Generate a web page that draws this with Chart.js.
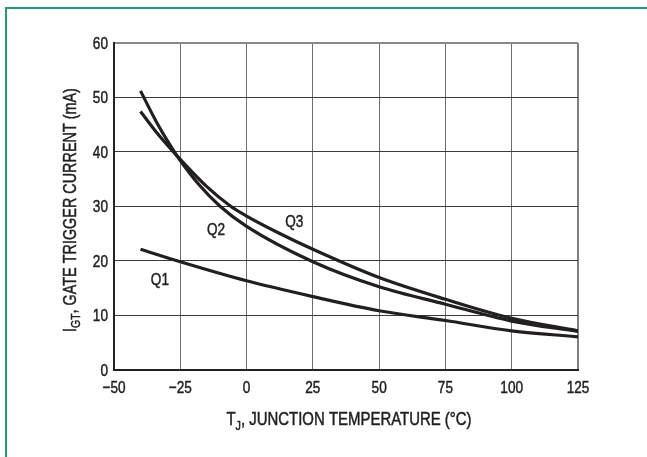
<!DOCTYPE html>
<html>
<head>
<meta charset="utf-8">
<title>Gate Trigger Current vs Junction Temperature</title>
<script src="https://cdn.jsdelivr.net/npm/chart.js@4.4.1/dist/chart.umd.min.js"></script>
<style>
    body { margin: 0; background: #fff; }
    #wrap { position: relative; width: 647px; height: 457px; overflow: hidden; }
    #frame {
        position: absolute; left: 5px; top: 7px; width: 700px; height: 500px;
        border-top: 2px solid #1f9e6c; border-left: 2px solid #1f9e6c;
    }
    canvas { position: absolute; left: 0; top: 0; }
</style>
</head>
<body>
<div id="wrap">
    <div id="frame"></div>
    <canvas id="gate-chart" width="647" height="457"></canvas>
</div>
<script>
"use strict"

// values
const tempQ1 = [-40, -25, 0, 25, 50, 75, 100, 125];
const currentQ1 = [22.1, 19.8, 16.3, 13.4, 10.8, 9.0, 7.1, 6.0];

const tempQ2 = [-40, -34, -28, -25, -18, -10, 0, 25, 50, 75, 100, 125];
const currentQ2 = [51.2, 45.5, 40.6, 38.4, 34.0, 30.0, 26.3, 19.8, 15.2, 12.0, 8.9, 7.0];

const tempQ3 = [-40, -34, -28, -25, -15, -6, 0, 12.5, 25, 50, 75, 100, 125];
const currentQ3 = [47.4, 43.6, 40.2, 38.6, 33.6, 30.0, 28.2, 25.0, 22.1, 16.9, 12.9, 9.4, 7.1];

// curve names, placed next to each curve
const curveNames = ["Q1", "Q2", "Q3"];
const nameTemps = [-32.7, -11.5, 18];
const nameCurrents = [16.6, 25.8, 27.2];

const xTicks = [-50, -25, 0, 25, 50, 75, 100, 125];
const yTicks = [0, 10, 20, 30, 40, 50, 60];

const FONT = "'Liberation Sans', Arial, sans-serif";
const INK = "#231f20";
const SQUEEZE = 0.8; // the datasheet uses a condensed face

const toPoints = (xs, ys) => xs.map((x, i) => ({ x: x, y: ys[i] }));

const curve = (label, xs, ys) => ({
    label: label,
    data: toPoints(xs, ys),
    showLine: true,
    borderColor: INK,
    borderWidth: 3.2,
    pointRadius: 0,
    cubicInterpolationMode: "monotone",
    fill: false
});

// condensed text: parts may be subscripts; align is "left", "center" or "right"
const drawParts = (ctx, parts, x, baseline, size, align, squeeze) => {
    const sq = squeeze || SQUEEZE;
    const fonts = parts.map(p => (p.sub ? Math.round(size * 0.7) : size) + "px " + FONT);
    let total = 0;
    parts.forEach((p, i) => { ctx.font = fonts[i]; total += ctx.measureText(p.t).width * sq; });
    let left = x;
    if (align === "center") left = x - total / 2;
    if (align === "right") left = x - total;
    ctx.textAlign = "left";
    ctx.textBaseline = "alphabetic";
    ctx.strokeStyle = INK;
    ctx.lineWidth = 0.5;
    parts.forEach((p, i) => {
        ctx.font = fonts[i];
        ctx.save();
        ctx.translate(left, baseline + (p.sub ? size * 0.25 : 0));
        ctx.scale(sq, 1);
        ctx.fillText(p.t, 0, 0);
        ctx.strokeText(p.t, 0, 0);
        ctx.restore();
        left += ctx.measureText(p.t).width * sq;
    });
};

const minusSign = (v) => (v < 0 ? "\u2212" + Math.abs(v) : String(v));

const textPlugin = {
    id: "texts",
    afterDraw(chart) {
        const { ctx, scales } = chart;
        ctx.save();
        ctx.fillStyle = INK;

        // tick labels
        yTicks.forEach(v => {
            drawParts(ctx, [{ t: String(v) }], 108, scales.y.getPixelForValue(v) + 6, 17, "right");
        });
        xTicks.forEach(v => {
            drawParts(ctx, [{ t: minusSign(v) }], scales.x.getPixelForValue(v), 393, 17, "center");
        });

        // curve names
        curveNames.forEach((name, i) => {
            drawParts(ctx, [{ t: name }], scales.x.getPixelForValue(nameTemps[i]),
                scales.y.getPixelForValue(nameCurrents[i]) + 6, 17, "center");
        });

        // x axis title
        drawParts(ctx, [
            { t: "T" }, { t: "J", sub: true }, { t: ", JUNCTION TEMPERATURE (°C)" }
        ], 349, 425, 18, "center", 0.83);

        // y axis title, rotated
        ctx.translate(75.5, 210);
        ctx.rotate(-Math.PI / 2);
        drawParts(ctx, [
            { t: "I" }, { t: "GT", sub: true }, { t: ", GATE TRIGGER CURRENT (mA)" }
        ], 0, 0, 18, "center", 0.8);
        ctx.restore();
    }
};

const ctx = document.getElementById("gate-chart");

new Chart(ctx, {
    type: "scatter",
    data: {
        datasets: [
            curve("Q1", tempQ1, currentQ1),
            curve("Q2", tempQ2, currentQ2),
            curve("Q3", tempQ3, currentQ3)
        ]
    },
    options: {
        responsive: false,
        animation: false,
        devicePixelRatio: 1,
        layout: { padding: { top: 43, right: 69, left: 0, bottom: 0 } },
        plugins: {
            legend: { display: false },
            tooltip: { enabled: false }
        },
        scales: {
            x: {
                type: "linear",
                min: xTicks[0],
                max: xTicks[xTicks.length - 1],
                afterBuildTicks: (scale) => { scale.ticks = xTicks.map(v => ({ value: v })); },
                afterFit: (scale) => { scale.height = 87.5; },
                ticks: { display: false },
                grid: {
                    drawTicks: false,
                    color: (c) => (c.tick && c.tick.value === 125 ? "#808080" : "#6f6f6f"),
                    lineWidth: (c) => (c.tick && c.tick.value === 125 ? 2 : 1)
                },
                border: { color: "#222", width: 2 }
            },
            y: {
                min: yTicks[0],
                max: yTicks[yTicks.length - 1],
                afterBuildTicks: (scale) => { scale.ticks = yTicks.map(v => ({ value: v })); },
                afterFit: (scale) => { scale.width = 114; },
                ticks: { display: false },
                grid: {
                    drawTicks: false,
                    color: (c) => (c.tick && c.tick.value === 60 ? "#8a8a8a" : "#3c3c3c"),
                    lineWidth: (c) => (c.tick && c.tick.value === 60 ? 2 : 1)
                },
                border: { color: "#222", width: 2 }
            }
        }
    },
    plugins: [textPlugin]
});
</script>
</body>
</html>
